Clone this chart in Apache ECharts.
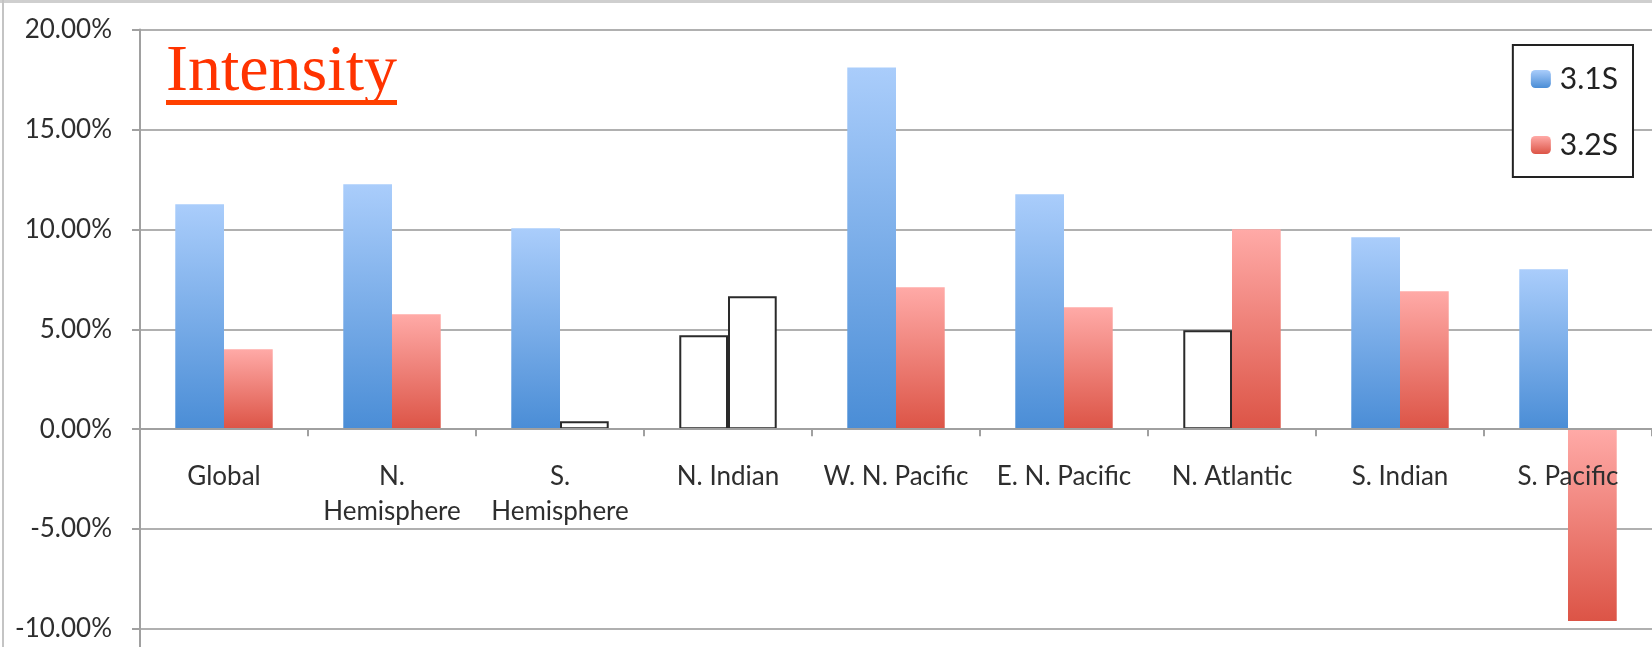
<!DOCTYPE html>
<html>
<head>
<meta charset="utf-8">
<script src="https://cdn.jsdelivr.net/npm/echarts@6/dist/echarts.min.js"></script>
<style>
html,body{margin:0;padding:0;background:#fff;}
#chart{width:1652px;height:647px;}
</style>
</head>
<body>
<div id="chart"></div>
<script>
var categories = ['Global', 'N.\nHemisphere', 'S.\nHemisphere', 'N. Indian', 'W. N. Pacific', 'E. N. Pacific', 'N. Atlantic', 'S. Indian', 'S. Pacific'];
var series31 = [11.25, 12.25, 10.05, 4.7, 18.1, 11.75, 4.95, 9.6, 8.0];
var series32 = [4.0, 5.75, 0.4, 6.65, 7.1, 6.1, 10.0, 6.9, -9.6];
// 1 = filled (coloured) bar, 0 = outlined (white) bar
var filled31 = [1, 1, 1, 0, 1, 1, 0, 1, 1];
var filled32 = [1, 1, 0, 0, 1, 1, 1, 1, 1];
var yTicks = [-10, -5, 0, 5, 10, 15, 20];
var seriesNames = ['3.1S', '3.2S'];
var titleText = 'Intensity';

function grad(top, bottom) {
  return new echarts.graphic.LinearGradient(0, 0, 0, 1, [
    {offset: 0, color: top}, {offset: 1, color: bottom}
  ]);
}
var blueGrad = grad('#aacdfb', '#4a8dd6');
var redGrad = grad('#ffaaa7', '#dc5446');

function build(values, flags) {
  return values.map(function (v, i) {
    if (flags[i]) return {value: v};
    return {value: v, itemStyle: {color: '#ffffff', borderColor: '#2a2a2a', borderWidth: 2, shadowBlur: 0, shadowOffsetY: 0}};
  });
}

var chart = echarts.init(document.getElementById('chart'), null, {renderer: 'canvas'});
var font = 'Lato, "Open Sans", sans-serif';
chart.setOption({
  animation: false,
  backgroundColor: '#ffffff',
  grid: {left: 140, right: 0, top: 29.5, bottom: 18, containLabel: false, outerBoundsMode: 'none'},
  legend: {
    orient: 'vertical',
    right: 19, top: 45,
    padding: [18, 15, 16, 18],
    backgroundColor: '#ffffff',
    borderColor: '#222222',
    borderWidth: 2,
    itemWidth: 20, itemHeight: 18,
    itemGap: 34,
    textStyle: {fontFamily: font, fontSize: 30, color: '#222', lineHeight: 32, padding: [0, 0, 0, 4]},
    data: seriesNames
  },
  xAxis: {
    type: 'category',
    data: categories,
    position: 'bottom',
    offset: 0,
    z: 5,
    axisLine: {onZero: false, lineStyle: {color: '#a0a0a0', width: 2}},
    axisTick: {show: true, length: 7, lineStyle: {color: '#a0a0a0', width: 2}},
    axisLabel: {interval: 0, margin: 30, fontFamily: font, fontSize: 26, color: '#2e2e2e', lineHeight: 35},
    splitLine: {show: false}
  },
  yAxis: {
    type: 'value',
    min: yTicks[0], max: yTicks[yTicks.length - 1], interval: 5,
    axisLine: {show: true, lineStyle: {color: '#a0a0a0', width: 2}},
    axisTick: {show: true, length: 8, lineStyle: {color: '#a0a0a0', width: 2}},
    axisLabel: {margin: 28, fontFamily: font, fontSize: 26, color: '#2e2e2e', padding: [10, 0, 0, 0],
      formatter: function (v) { return v.toFixed(2) + '%'; }},
    splitLine: {show: true, lineStyle: {color: '#b0b0b0', width: 2}}
  },
  series: [
    {
      name: seriesNames[0], type: 'bar', barGap: '0%', barCategoryGap: '42%',
      itemStyle: {color: blueGrad, shadowBlur: 3, shadowColor: 'rgba(0,0,0,0.25)', shadowOffsetY: 1},
      data: build(series31, filled31)
    },
    {
      name: seriesNames[1], type: 'bar', barGap: '0%', barCategoryGap: '42%',
      itemStyle: {color: redGrad, shadowBlur: 3, shadowColor: 'rgba(0,0,0,0.25)', shadowOffsetY: 1},
      data: build(series32, filled32)
    }
  ],
  graphic: [
    {type: 'rect', left: 0, top: 0, z: 100, shape: {width: 1652, height: 3}, style: {fill: '#cfcfcf'}},
    {type: 'rect', left: 2, top: 0, z: 100, shape: {width: 2, height: 647}, style: {fill: '#c4c4c4'}},
    {type: 'rect', left: 139, top: 620, z: 0, shape: {width: 2, height: 27}, style: {fill: '#a0a0a0'}},
    {type: 'text', left: 166, top: 40, z: 100,
      style: {text: titleText, fill: '#ff3300', font: '66px "Liberation Serif", "Times New Roman", serif'}},
    {type: 'rect', left: 166, top: 100, z: 100, shape: {width: 231, height: 5}, style: {fill: '#ff4000'}}
  ]
});
// Move the category axis (line, ticks and labels) to the zero line using the value scale.
var zeroY = chart.convertToPixel({yAxisIndex: 0}, 0);
var minY = chart.convertToPixel({yAxisIndex: 0}, yTicks[0]);
chart.setOption({xAxis: {offset: -(minY - zeroY)}});
</script>
</body>
</html>
